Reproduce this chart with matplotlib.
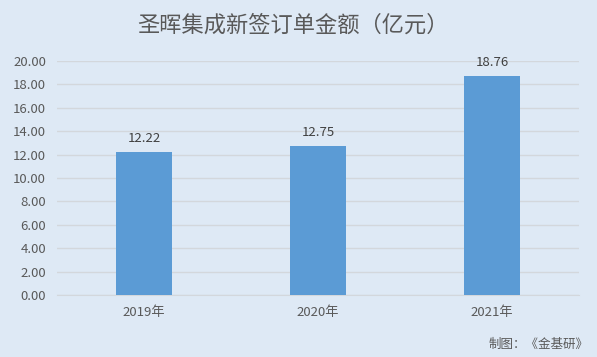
import matplotlib
matplotlib.use("Agg")
import matplotlib.pyplot as plt

plt.rcParams['font.family'] = ['Noto Sans CJK SC', 'DejaVu Sans']

categories = ["2019年", "2020年", "2021年"]
values = [12.22, 12.75, 18.76]
yticks = [0, 2, 4, 6, 8, 10, 12, 14, 16, 18, 20]

bg = "#dee9f5"
fig = plt.figure(figsize=(5.97, 3.57), dpi=100, facecolor=bg)
ax = fig.add_axes([0.0955, 0.1737, 0.8745, 0.6553], facecolor=bg)

x = range(len(categories))
bars = ax.bar(x, values, width=0.32, color="#5b9bd5", zorder=3)
for xi, v in zip(x, values):
    ax.text(xi, v + 0.6, f"{v:.2f}", ha="center", va="bottom", fontsize=9.5, color="#404040")

ax.set_xlim(-0.5, 2.5)
ax.set_ylim(0, 20)
ax.set_yticks(yticks)
ax.set_yticklabels([f"{t:.2f}" for t in yticks], fontsize=9.5, color="#595959")
ax.set_xticks(list(x))
ax.set_xticklabels(categories, fontsize=9.5, color="#595959")
ax.tick_params(axis="both", length=0, pad=8)
ax.grid(axis="y", color="#d3d7dc", linewidth=1, zorder=0)
for s in ["top", "right", "left"]:
    ax.spines[s].set_visible(False)
ax.spines["bottom"].set_color("#d3d7dc")

fig.text(0.49, 0.93, "圣晖集成新签订单金额（亿元）", ha="center", va="center", fontsize=16, color="#595959")
fig.text(0.985, 0.035, "制图：《金基研》", ha="right", va="center", fontsize=9, color="#595959")

fig.savefig("out.png", dpi=100, facecolor=bg)
